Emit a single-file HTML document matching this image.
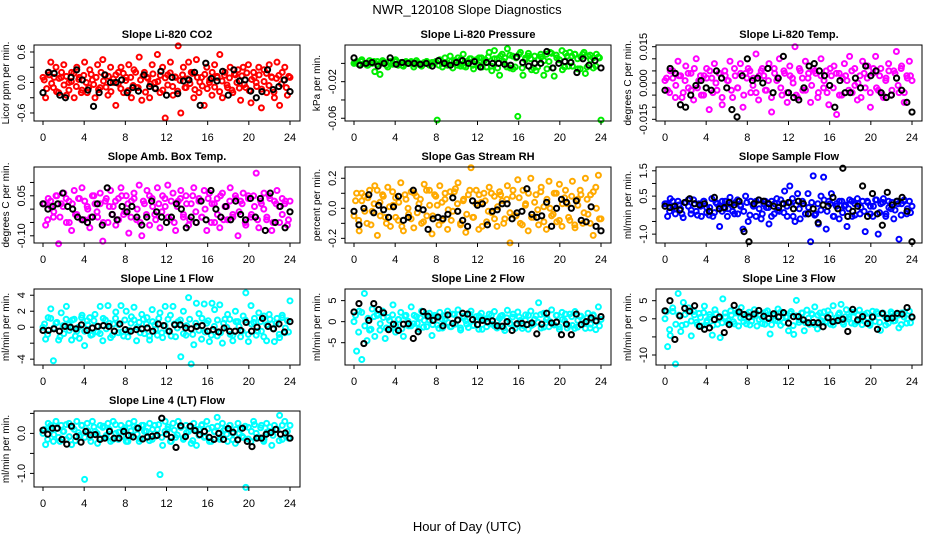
<!DOCTYPE html>
<html><head><meta charset="utf-8">
<style>
html,body{margin:0;padding:0;background:#fff;}
svg{display:block;font-family:"Liberation Sans",Arial,sans-serif;}
</style></head>
<body>
<svg id="fig" width="936" height="540" viewBox="0 0 936 540">
<rect width="936" height="540" fill="#fff"/>
<text x="467" y="14" text-anchor="middle" font-size="13">NWR_120108  Slope Diagnostics</text>
<text x="467" y="531" text-anchor="middle" font-size="13">Hour of Day (UTC)</text>
</svg>
<script>
const xTicks=[0,4,8,12,16,20,24];
const titles=["Slope Li-820 CO2","Slope Li-820 Pressure","Slope Li-820 Temp.","Slope Amb. Box Temp.","Slope Gas Stream RH","Slope Sample Flow","Slope Line 1 Flow","Slope Line 2 Flow","Slope Line 3 Flow","Slope Line 4 (LT) Flow"];
const yTitles=["Licor ppm per min.","kPa per min.","degrees C per min.","degrees C per min.","percent per min.","ml/min per min.","ml/min per min.","ml/min per min.","ml/min per min.","ml/min per min."];
const yTickVals=[[-0.6,-0.3,0,0.3,0.6],[-0.06,-0.04,-0.02,0],[-0.015,-0.01,-0.005,0,0.005,0.01,0.015],[-0.1,-0.05,0,0.05,0.1],[-0.2,-0.1,0,0.1,0.2],[-1,-0.5,0,0.5,1,1.5],[-4,-2,0,2,4],[-5,0,5],[-10,-5,0,5],[-1,-0.5,0,0.5]];
const yTickLabels=[["-0.6","","0.0","","0.6"],["-0.06","","-0.02",""],["-0.015","","","0.000","","","0.015"],["-0.10","","","0.05",""],["-0.2","","0.0","","0.2"],["-1.0","","","0.5","","1.5"],["-4","","0","2","4"],["-5","0","5"],["-10","","0","5"],["-1.0","","0.0",""]];
const yLimLo=[-0.758,-0.063,-0.0157,-0.127,-0.231,-1.35,-4.73,-10.3,-12.76,-1.34];
const yLimHi=[0.738,0.0201,0.0157,0.158,0.275,1.65,4.78,7.76,8.23,0.56];
const colors=["#ff0000","#00ee00","#ff00ff","#ff00ff","#ffaa00","#0000ff","#00ffff","#00ffff","#00ffff","#00ffff"];

const co2Col=[0.1,-0.3,0.2,0.4,-0.1,0.3,-0.2,0.1,0.35,-0.25,0.0,0.2,-0.3,0.3,0.1,-0.15,0.4,-0.2,0.25,0.05,-0.3,0.35,-0.1,0.45,0.15,-0.25,0.3,0.0,-0.45,0.2,0.3,-0.2,0.1,0.35,-0.3,0.25,-0.1,0.5,-0.35,0.2,0.1,-0.3,0.35,0.0,0.55,-0.2,0.3,-0.7,0.15,0.4,-0.25,0.1,0.72,-0.6,0.3,-0.1,0.4,0.2,-0.3,0.45,-0.2,0.1,-0.45,0.3,0.0,-0.25,0.35,0.1,0.55,-0.3,0.2,-0.1,0.3,-0.2,0.15,0.25,-0.35,0.3,-0.1,0.35,-0.4,0.2,0.0,0.3,-0.5,0.25,-0.2,0.35,0.1,-0.3,0.4,-0.45,0.2,0.3,-0.25,0.1];
const co2Core=[0.05,-0.12,0.15,-0.02,0.1,-0.18,0.08,0.2,-0.05,0.12,-0.15,0.02,0.18,-0.08,0.06,-0.2,0.14,0.0,-0.1,0.16,-0.04,0.1,-0.14,0.2,0.03,-0.09,0.12,-0.18,0.07,0.15,-0.02,-0.12,0.18,0.04,-0.16,0.1,-0.06,0.2,-0.1,0.05,0.13,-0.19,0.08,-0.03,0.17,-0.11,0.02,0.14,-0.15,0.09,-0.05,0.19,-0.08,0.11,-0.17,0.04,0.15,-0.1,0.07,-0.02,0.18,-0.14,0.1,0.01,-0.07,0.16,-0.12,0.05,0.2,-0.09,0.12,-0.18,0.03,0.14,-0.05,0.09,-0.15,0.17,0.0,-0.11,0.13,-0.04,0.19,-0.16,0.06,0.1,-0.08,0.15,-0.13,0.02,0.18,-0.06,0.11,-0.19,0.08,0.14,-0.03,0.05,-0.1,0.12];
const co2Blk=[-0.2,0.2,0.18,-0.25,-0.3,0.1,0.25,0.05,-0.15,-0.47,-0.2,0.15,0.0,0.0,0.05,-0.2,-0.1,-0.17,0.15,-0.08,-0.12,0.22,-0.25,0.1,-0.22,0.03,0.05,0.2,-0.45,0.38,0.08,0.03,0.22,-0.25,0.25,0.03,0.05,-0.17,-0.3,-0.18,0.25,-0.14,-0.08,0.05,-0.18];
const presCol=[0,0.002,-0.001,0.004,0,-0.002,0.003,0,-0.009,0.002,-0.012,0.003,0.001,-0.004,0.002,0,0.004,-0.002,0.001,-0.003,0.002,0,0.001,-0.004,0.003,0,-0.003,0.001,0.002,-0.002,0.001,0,-0.062,0.004,-0.004,0.006,-0.002,0.008,-0.005,0.003,0.006,-0.003,0.010,-0.004,0.002,0.005,-0.006,0.004,-0.002,0.006,0.003,-0.004,0.012,-0.008,0.014,0.005,-0.013,0.010,0.006,0.016,-0.005,0.008,-0.004,-0.058,0.012,-0.013,0.006,0.008,0.005,-0.005,-0.008,0.004,0.007,-0.013,0.010,0.002,0.011,-0.014,0.006,0.004,0.014,-0.004,0.008,0.012,-0.003,0.010,0.005,-0.006,0.010,-0.011,0.008,0.004,0.006,-0.003,0.007,-0.062];
const presCore=[0.001,-0.001,0.002,0,-0.002,0.001,0.002,-0.001,0,0.002,-0.002,0.001,-0.001,0.002,0,-0.002,0.001,0,0.002,-0.001,0.001,-0.002,0,0.002,-0.001,0.001,0.002,-0.002,0,0.001,-0.001,0.002,0.003,-0.002,0.004,-0.003,0.002,0.005,-0.002,0.003,0.006,-0.004,0.004,0.007,-0.003,0.005,-0.005,0.008,0.002,-0.004,0.009,-0.006,0.006,0.01,-0.005,0.004,0.011,-0.007,0.008,-0.004,0.01,0.003,-0.006,0.012,-0.005,0.009,0.004,-0.007,0.011,-0.003,0.008,0.01,-0.006,0.007,0.012,-0.004,0.009,-0.005,0.01,0.006];
const presBlk=[0.006,-0.002,0,0.001,-0.003,0,0.006,-0.001,0.001,0,0,-0.001,0,-0.003,0.003,0,-0.002,0.001,0.003,0,0.002,-0.004,0.001,0,0,-0.001,-0.002,0.007,0.001,-0.003,0,0,0.013,-0.005,0,0.002,0.001,-0.010,0.005,-0.002,0.003,-0.005];
const tempCol=[0.001,-0.003,0.005,0.002,-0.006,0.009,0.003,-0.004,0.007,-0.002,0.004,-0.007,0.010,0.001,-0.005,0.003,0.006,-0.011,0.002,0.008,-0.003,0.004,-0.009,0.005,0.001,0.009,-0.006,0.003,-0.002,0.008,-0.010,0.004,0.006,-0.004,0.002,0.012,-0.007,0.005,0.003,-0.003,0.008,-0.012,0.006,0.001,0.010,-0.005,0.004,-0.008,0.007,0.002,0.015,-0.006,0.005,-0.003,0.009,0.002,-0.008,0.006,0.004,-0.004,0.010,-0.002,0.005,-0.009,0.003,0.007,-0.013,0.004,-0.005,0.008,0.001,0.011,-0.004,0.006,-0.007,0.003,0.009,-0.002,0.007,-0.010,0.004,0.011,-0.003,0.006,-0.006,0.002,0.008,-0.005,0.005,0.013,-0.004,0.007,-0.008,0.003,0.009,0.001];
const tempCore=[0.002,-0.004,0.005,-0.001,0.003,-0.006,0.001,0.004,-0.003,0.006,-0.002,0.003,-0.005,0.002,0.005,-0.004,0.0,0.004,-0.006,0.003,0.001,-0.003,0.006,-0.002,0.004,-0.005,0.002,0.005,-0.001,-0.004,0.003,0.006,-0.003,0.001,-0.006,0.004,0.002,-0.002,0.005,-0.004,0.003,0.0,-0.005,0.006,0.002,-0.003,0.004,-0.001,0.005,-0.006,0.003,0.001,-0.004,0.006,-0.002,0.004,-0.005,0.002,0.003,-0.003,0.005,-0.001,0.0,-0.006,0.004,0.002,-0.004,0.006,-0.002,0.003,-0.005,0.001,0.005,-0.003,0.004,-0.001,0.006,-0.004,0.002,0.003];
const tempBlk=[-0.003,0.006,0.004,-0.009,-0.010,-0.005,-0.001,0.001,-0.002,-0.003,0.005,0.002,-0.002,-0.011,-0.014,0.003,0.010,0.001,0.002,0.000,0.006,-0.004,0.002,0.011,-0.004,-0.006,-0.007,-0.002,0.007,0.008,0.005,0.003,-0.001,-0.010,0.001,-0.004,-0.004,0.002,-0.002,0.007,0.003,0.005,-0.004,-0.006,-0.005,0.002,-0.003,-0.008,-0.012];
const ambCol=[0.02,-0.06,0.04,0.01,-0.03,0.05,-0.13,0.02,0.06,-0.05,0.03,-0.08,0.07,-0.02,0.04,0.08,-0.04,0.01,-0.07,0.05,0.02,-0.03,0.06,-0.12,0.03,-0.05,0.07,0.01,-0.06,0.04,0.08,-0.02,0.05,-0.09,0.03,0.06,-0.04,0.09,-0.1,0.02,0.07,-0.06,0.04,-0.02,0.08,-0.07,0.05,0.01,0.09,-0.04,0.06,-0.08,0.03,0.07,-0.03,0.05,-0.06,0.02,0.08,-0.05,0.04,-0.03,0.07,-0.08,0.06,0.02,-0.05,0.04,-0.07,0.06,0.01,-0.04,0.08,-0.02,0.05,-0.1,0.03,0.06,-0.06,0.04,-0.03,0.05,0.135,-0.07,0.02,0.06,-0.04,0.05,-0.08,0.03,0.07,-0.05,0.04,0.02,-0.06,0.03];
const ambCore=[0.02,-0.04,0.03,-0.01,0.05,-0.03,0.01,0.04,-0.05,0.02,-0.02,0.04,-0.04,0.03,0.0,-0.03,0.05,-0.01,0.02,-0.05,0.04,0.01,-0.02,0.03,-0.04,0.05,-0.01,0.02,-0.03,0.04,0.0,-0.05,0.03,-0.02,0.05,0.01,-0.04,0.02,-0.01,0.04,-0.03,0.03,-0.05,0.01,0.04,-0.02,0.02,-0.04,0.05,-0.01,0.03,-0.03,0.0,0.04,-0.05,0.02,-0.02,0.05,-0.04,0.01,0.03,-0.03,0.04,-0.01,0.02,-0.05,0.05,-0.02,0.01,-0.04,0.03,0.0,-0.03,0.04,-0.05,0.02,0.01,-0.02,0.03,-0.04];
const ambBlk=[0.02,0.0,0.01,0.02,0.06,0.01,0.0,-0.03,-0.04,-0.05,-0.03,0.02,-0.06,0.08,-0.02,-0.04,0.01,-0.01,0.01,-0.03,-0.06,-0.03,0.03,-0.01,-0.03,-0.05,-0.03,0.02,0.0,-0.07,-0.03,-0.05,0.03,-0.04,0.07,0.0,-0.03,0.01,-0.04,0.03,-0.02,-0.04,0.04,-0.03,0.04,-0.08,0.06,-0.05,0.01,-0.07,-0.01];
const rhCol=[-0.05,0.1,-0.15,0.05,0.08,-0.1,0.12,-0.02,0.15,-0.18,0.04,0.09,-0.06,0.14,-0.12,0.02,0.07,-0.08,0.17,-0.15,0.06,-0.04,0.11,-0.13,0.08,0.03,-0.1,0.16,-0.05,0.12,-0.17,0.09,0.02,0.15,-0.08,0.06,-0.14,0.11,-0.02,0.13,0.17,-0.11,0.05,-0.16,0.09,0.27,-0.06,0.12,-0.14,0.04,0.10,-0.09,0.14,-0.03,0.08,-0.12,0.11,0.05,-0.07,0.15,-0.23,0.08,-0.05,0.19,-0.1,0.12,0.03,-0.15,0.20,-0.06,0.09,-0.11,0.14,0.01,-0.14,0.18,-0.05,0.10,-0.09,0.16,-0.12,0.07,0.03,-0.08,0.18,-0.13,0.06,0.12,-0.1,0.2,-0.04,0.09,-0.18,0.14,0.22,-0.07];
const rhCore=[0.05,-0.08,0.1,-0.02,0.07,-0.11,0.03,0.12,-0.05,0.08,-0.1,0.01,0.11,-0.06,0.04,-0.12,0.09,0.0,-0.07,0.1,-0.03,0.06,-0.09,0.12,0.02,-0.05,0.08,-0.11,0.04,0.1,-0.01,-0.08,0.11,0.03,-0.1,0.06,-0.04,0.12,-0.06,0.03,0.09,-0.12,0.05,-0.02,0.1,-0.07,0.01,0.09,-0.1,0.06,-0.03,0.12,-0.05,0.07,-0.11,0.02,0.1,-0.06,0.04,-0.01,0.11,-0.09,0.06,0.0,-0.04,0.1,-0.08,0.03,0.12,-0.06,0.08,-0.11,0.02,0.09,-0.03,0.06,-0.1,0.11,0.0,-0.07];
const rhBlk=[-0.02,-0.11,0.0,0.09,-0.03,0.02,-0.01,-0.06,0.01,0.08,-0.08,-0.06,0.12,0.0,-0.01,-0.14,-0.07,-0.06,-0.07,-0.04,0.07,-0.02,-0.08,-0.12,0.05,0.02,0.03,-0.11,-0.02,-0.01,0.03,0.03,-0.07,-0.03,-0.02,0.13,-0.04,-0.06,-0.05,0.04,-0.12,0.0,0.06,0.04,0.0,0.05,-0.08,-0.09,0.01,-0.12,-0.15];
const sfCol=[0.2,-0.3,0.4,0.1,-0.2,0.3,0.0,-0.35,0.25,0.1,-0.2,0.35,-0.1,0.2,-0.3,0.3,0.05,-0.25,0.4,-0.15,0.2,-0.7,0.3,0.0,-0.3,0.45,-0.1,0.25,-0.2,0.15,-0.8,0.5,-0.5,0.3,0.1,-0.3,0.35,-0.4,0.2,0.05,-0.6,0.3,-0.2,0.4,-0.1,0.2,0.7,-0.3,0.9,0.4,-0.5,0.6,-0.4,0.2,-0.2,0.6,-1.3,1.3,-0.2,-0.6,0.5,1.25,-0.8,0.3,0.6,-0.3,0.2,-0.4,0.3,0.1,-0.7,0.35,-0.3,0.2,0.4,-0.2,0.3,-0.9,0.25,0.1,-0.3,0.35,-1.0,0.2,0.4,-0.2,0.3,0.0,-0.4,0.3,-1.2,0.2,0.35,-0.2,0.3,0.1];
const sfCore=[0.2,-0.1,0.3,0.0,0.15,-0.2,0.25,0.35,-0.05,0.2,-0.25,0.1,0.3,-0.15,0.05,-0.3,0.25,0.1,-0.1,0.3,0.0,0.2,-0.2,0.35,0.1,-0.1,0.25,-0.25,0.15,0.3,0.0,-0.2,0.3,0.05,-0.3,0.2,-0.05,0.35,-0.15,0.1,0.25,-0.3,0.15,0.0,0.3,-0.2,0.05,0.25,-0.25,0.2,-0.05,0.35,-0.1,0.2,-0.3,0.1,0.3,-0.15,0.15,0.0,0.3,-0.25,0.2,0.05,-0.1,0.3,-0.2,0.1,0.35,-0.15,0.25,-0.3,0.05,0.25,-0.05,0.2,-0.25,0.3,0.0,-0.15];
const sfBlk=[0.1,0.05,0.1,-0.05,0.25,0.4,0.2,0.15,0.2,-0.1,0.45,0.0,0.05,0.25,0.15,0.3,-0.9,-1.3,0.2,0.35,0.3,0.2,0.1,0.05,0.2,0.25,0.0,0.3,0.2,-0.2,0.0,-0.55,0.15,0.1,0.45,0.0,1.6,-0.3,-0.1,0.1,0.9,-0.3,0.6,-0.2,-0.65,0.65,0.15,0.3,0.45,-0.1,-1.3];
const l1Col=[0,-1.5,1.2,2.3,-4.2,0.5,-1.6,1.8,-0.8,2.6,0.3,-1.6,1.0,-0.5,-1.4,1.5,-2.3,0.8,1.2,-0.9,1.6,-0.6,2.6,-1.7,0.9,2.7,-1.3,0.4,1.9,-0.7,2.7,-1.1,2.0,-0.4,1.3,2.5,-1.7,0.6,1.6,-0.8,1.2,-1.6,2.2,0.3,-1.0,1.8,-1.3,2.6,-0.5,1.5,2.6,-1.2,0.7,-3.7,2.0,-1.0,3.7,-4.6,-2.2,3.0,1.7,-1.5,2.9,0.5,-1.8,3.0,2.2,-1.1,2.8,-2.0,1.0,1.6,-0.9,-1.7,2.0,0.7,-1.2,1.4,4.3,-1.8,2.7,0.6,-1.0,1.8,-0.5,1.4,-1.7,1.6,0.4,-1.8,1.1,-1.3,1.5,-0.7,0.8,3.3];
const l1Core=[0.4,-0.9,1.1,-0.1,0.6,-1.2,0.2,1.0,-0.4,0.9,-1.1,0.0,1.2,-0.5,0.3,-1.0,0.8,0.1,-0.8,1.1,-0.2,0.5,-1.0,1.1,0.3,-0.6,0.9,-1.2,0.5,0.9,0.0,-0.7,1.0,0.4,-1.1,0.7,-0.3,1.1,-0.7,0.2,1.0,-1.1,0.4,-0.1,0.9,-0.8,0.2,1.0,-0.9,0.5,-0.4,1.1,-0.6,0.8,-1.0,0.1,0.9,-0.7,0.5,0.0,1.0,-1.0,0.7,0.1,-0.5,0.9,-0.9,0.4,1.1,-0.5,0.7,-1.2,0.3,1.0,-0.2,0.5,-0.9,1.2,-0.1,-0.6];
const l1Blk=[-0.4,-0.4,-0.2,-0.5,0.1,0,-0.2,0.3,-0.4,-0.1,0.1,0.2,0.1,-0.5,0.4,-0.3,-0.5,-0.3,-0.2,-0.1,-0.5,0.4,0.2,-0.5,0.3,0.3,-0.1,-0.2,0.1,0.2,-0.5,-0.3,-0.6,-0.1,-0.5,-0.5,-0.4,0.6,-0.5,0,1.1,0.1,-0.2,0.4,-0.6,0.7];
const l2Col=[0,-7,2.5,-9,6.7,-4.5,-2,3,-3.5,1.5,-2,2.5,-4,1,-1.5,4,-2.5,0.5,2.2,-3.5,1.5,-1,3.5,-0.5,1.2,-1.8,2.5,0.3,-1.2,2,-3.3,1.5,-0.8,2.2,-1.5,0.5,2.5,-1.2,1.8,-0.6,2.8,-2,1.3,0.2,-1.4,2.5,-0.9,1.2,-1.8,2,0.4,-1.2,1.8,-0.6,2.4,-1.5,0.8,1.5,-2.1,2.7,-0.5,1.1,-1.6,2.3,0.3,-0.9,1.6,-1.8,2.5,-0.6,1.4,4.5,-1.5,2,0.5,-1.2,2.8,-0.8,1.5,-1.8,2.2,0.2,-1.5,1.8,-0.9,2.4,-1.3,1.2,0.5,-1.6,2,-0.6,1.4,-1.9,3.5,0.5];
const l2Core=[1.5,-2.5,2.2,-1,0.8,-1.8,1.2,1.8,-0.5,1,-1.5,0.3,1.6,-0.9,0.5,-1.7,1.3,0.1,-1,1.5,-0.4,0.9,-1.3,1.8,0.3,-0.7,1.2,-1.6,0.6,1.5,-0.2,-1.2,1.7,0.4,-1.5,0.9,-0.6,1.8,-0.9,0.4,1.4,-1.8,0.7,-0.3,1.5,-1,0.2,1.3,-1.5,0.9,-0.4,1.8,-0.7,1.1,-1.6,0.3,1.5,-0.9,0.6,-0.1,1.7,-1.3,0.9,0,-0.6,1.5,-1.2,0.5,1.8,-0.9,1.2,-1.6,0.3,1.3,-0.4,0.9,-1.5,1.6,0,-1];
const l2Blk=[2.3,4.3,-5.2,0.3,4.3,2.9,2.1,-1.9,-0.6,-2.1,-0.6,-0.5,-4,-2.4,2.4,1.3,0.3,1.1,-1,1.6,-0.4,0.4,2,1.8,0.5,-0.7,0.3,0,0.2,-1,-1.1,0,-2.1,-0.5,-0.4,-0.7,-0.3,-2.9,-0.6,2,-0.3,-0.1,-3.1,-0.6,-3.1,1.8,-0.7,0,0.9,0.2,1.2];
const l3Col=[0,-7.7,-4.6,2,-12.5,7,-3.5,4.5,-1.5,3,-4.7,2,-1,1.5,-2,3.5,-0.5,1.2,-4.5,2.5,-1.5,-5.2,5.5,0.5,-1.2,2.2,-0.8,1.6,-2,3.1,0.3,-1.4,1.8,-0.6,2.5,-2,1,0.2,-1.5,2.2,-4.2,1.2,-0.4,2.7,-1.8,1.5,0.5,-3.3,2,-4.3,5.1,-1,1.6,-3.3,2.4,-1.5,1.2,3.3,-2.8,1.6,0.4,-1,2.2,-1.5,3.6,-0.6,1.2,4,-1.5,2.5,0.5,-1.2,1.8,-0.8,2.4,-1.6,1.2,0.3,-1.8,2.1,-0.7,1.4,-3.2,1.6,0.4,-1.2,1.9,-0.6,1.3,-2.5,1.6,0.5,-1.2,2.1,0.3];
const l3Core=[2,-3,3,-1.5,1,-1.8,1.2,2,-0.6,1.1,-1.6,0.4,1.7,-1,0.5,-1.8,1.4,0.1,-1.1,1.6,-0.5,1,-1.4,1.9,0.3,-0.8,1.3,-1.7,0.6,1.6,-0.2,-1.3,1.8,0.4,-1.6,1,-0.6,1.9,-1,0.4,1.5,-1.9,0.8,-0.3,1.6,-1.1,0.2,1.4,-1.6,1,-0.5,1.9,-0.8,1.2,-1.7,0.3,1.6,-1,0.6,-0.1,1.8,-1.4,1,0,-0.6,1.6,-1.3,0.5,1.9,-1,1.3,-1.7,0.3,1.4,-0.5,1,-1.6,1.7,0,-1.1];
const l3Blk=[2.2,5,-5.7,0.8,2.9,2.1,3.6,-2.1,-2.9,-2.5,-0.2,0.5,-3.8,-1.6,3.7,1.9,1.2,0.5,1.3,2.3,0.7,0.1,1.4,0.5,1.7,-1.2,0.6,0.6,-0.3,-1.1,-1.0,-1.1,-2.2,0.3,-0.8,-0.5,-0.1,-3.5,2.6,-0.3,0.6,-1.3,0.5,-2.9,1.5,0.1,0.2,1.5,1.3,3.1,0.5];
const l4Col=[0.0,-0.28,0.25,0.1,-0.2,0.3,-0.1,0.2,0.05,-0.15,0.25,-0.28,0.1,0.3,-0.05,0.2,-1.15,0.25,-0.1,0.3,0.05,-0.25,0.2,0.15,-0.1,0.25,-0.2,0.3,0.0,-0.15,0.2,0.1,-0.2,0.25,-0.05,0.3,0.15,-0.2,0.2,0.05,-0.1,0.25,-0.15,0.2,0.1,-1.03,-0.3,0.3,0.1,-0.2,0.25,-0.1,0.3,0.15,-0.15,0.2,0.05,-0.25,0.25,-0.3,0.1,0.2,-0.1,0.3,-0.2,0.15,0.05,0.4,-0.15,0.25,0.1,-0.2,0.2,0.0,-0.25,0.25,0.1,-0.1,-1.35,0.15,-0.2,0.3,0.0,-0.1,0.2,-0.15,0.25,0.05,-0.3,0.2,0.1,0.45,-0.15,0.3,0.05,0.2];
const l4Core=[0.1,-0.15,0.2,-0.03,0.12,-0.2,0.05,0.22,-0.08,0.15,-0.18,0.02,0.2,-0.1,0.07,-0.2,0.16,0.0,-0.12,0.18,-0.05,0.1,-0.16,0.22,0.03,-0.08,0.14,-0.2,0.06,0.18,-0.02,-0.14,0.2,0.05,-0.18,0.1,-0.07,0.22,-0.1,0.05,0.16,-0.2,0.08,-0.04,0.18,-0.12,0.02,0.16,-0.18,0.1,-0.05,0.22,-0.08,0.12,-0.2,0.04,0.18,-0.1,0.07,-0.02,0.2,-0.16,0.1,0.0,-0.07,0.18,-0.14,0.05,0.22,-0.1,0.14,-0.2,0.03,0.16,-0.05,0.1,-0.18,0.2,0.0,-0.12];
const l4Blk=[0.08,-0.02,0.13,0.13,-0.15,-0.27,0.18,-0.08,-0.22,0.05,-0.04,-0.03,-0.15,-0.12,0.05,-0.12,-0.12,0.05,-0.05,-0.09,0.13,-0.14,-0.09,-0.07,-0.05,0.38,-0.02,-0.1,-0.35,0.19,-0.08,0.18,0.07,-0.03,0.05,-0.1,-0.15,0.0,-0.15,0.12,0.03,-0.16,0.13,-0.2,-0.33,-0.12,-0.12,-0.02,0.02,0.1,-0.02,0.01,-0.12];

const colorSeries=[co2Col,presCol,tempCol,ambCol,rhCol,sfCol,l1Col,l2Col,l3Col,l4Col];
const coreSeries=[co2Core,presCore,tempCore,ambCore,rhCore,sfCore,l1Core,l2Core,l3Core,l4Core];
const blackSeries=[co2Blk,presBlk,tempBlk,ambBlk,rhBlk,sfBlk,l1Blk,l2Blk,l3Blk,l4Blk];

const NS="http://www.w3.org/2000/svg";
const svg=document.getElementById('fig');
function mk(tag,attrs,parent){const e=document.createElementNS(NS,tag);for(const k in attrs)e.setAttribute(k,attrs[k]);(parent||svg).appendChild(e);return e;}
const colLeft=[34,345,656], rowTop=[45,167,289,411], boxW=266, boxH=76;
function slug(s){return s.toLowerCase().replace(/[^a-z0-9]+/g,'-').replace(/^-|-$/g,'');}

for(let p=0;p<10;p++){
  const L=colLeft[p%3], T=rowTop[Math.floor(p/3)], B=T+boxH;
  const xs=h=>L+9+h*(247/24);
  const ys=v=>T+(yLimHi[p]-v)/(yLimHi[p]-yLimLo[p])*boxH;
  const g=mk('g',{});
  
  
  const t=mk('text',{x:L+boxW/2,y:T-7,'text-anchor':'middle','font-size':'11','font-weight':'bold'},g);
  t.textContent=titles[p];
  
  
  const cg=mk('g',{fill:'none',stroke:colors[p],'stroke-width':'2'},g);
  
  
  const cv=colorSeries[p];
  cv.forEach((v,i)=>{const c=mk('circle',{cx:xs(i*24/(cv.length-1)),cy:ys(v),r:2.5},cg);
    
    });
  const kv=coreSeries[p];
  kv.forEach((v,i)=>{const c=mk('circle',{cx:xs((i+0.5)*24/kv.length),cy:ys(v),r:2.5},cg);
    
    });
  const bg=mk('g',{fill:'none',stroke:'#000','stroke-width':'2'},g);
  
  
  const bv=blackSeries[p];
  bv.forEach((v,i)=>{const c=mk('circle',{cx:xs(i*24/(bv.length-1)),cy:ys(v),r:2.6},bg);
    
    });
  const box=mk('rect',{x:L,y:T,width:boxW,height:boxH,fill:'none',stroke:'#000','stroke-width':'1'},g);
  
  
  const xa=mk('g',{stroke:'#000','stroke-width':'1'},g);
  
  
  xTicks.forEach(h=>{mk('line',{x1:xs(h),x2:xs(h),y1:B,y2:B+4},xa);
    const tl=mk('text',{x:xs(h),y:B+20,'text-anchor':'middle','font-size':'11',stroke:'none'},xa);
    tl.textContent=h;
    
    });
  const ya=mk('g',{stroke:'#000','stroke-width':'1'},g);
  
  
  yTickVals[p].forEach((v,i)=>{const y=ys(v);mk('line',{x1:L-4,x2:L,y1:y,y2:y},ya);
    const lab=yTickLabels[p][i];
    if(lab){const tl=mk('text',{x:0,y:0,transform:`translate(${L-9},${y}) rotate(-90)`,'text-anchor':'middle','font-size':'11',stroke:'none'},ya);
      tl.textContent=lab;
      
      }});
  const yt=mk('text',{x:0,y:0,transform:`translate(${L-25},${T+boxH/2}) rotate(-90)`,'text-anchor':'middle','font-size':'10'},g);
  yt.textContent=yTitles[p];
  
  
}
</script>
</body></html>
